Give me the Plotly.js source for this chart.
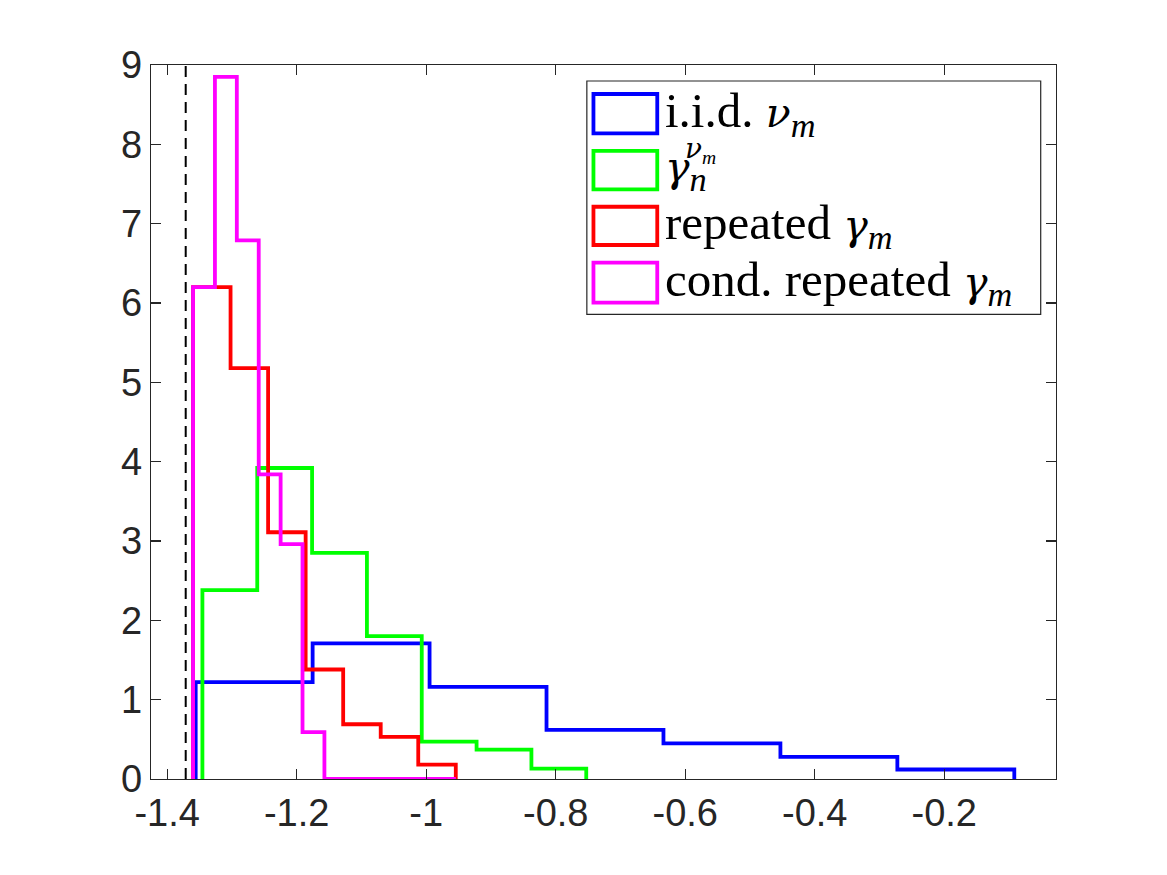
<!DOCTYPE html>
<html>
<head>
<meta charset="utf-8">
<script src="https://cdn.plot.ly/plotly-3.0.1.min.js"></script>
<style>html,body{margin:0;padding:0;background:#fff;}#chart{width:1167px;height:875px;}</style>
</head>
<body>
<div id="chart"></div>
<script>
// ---- data ----
const iidStart = -1.356, iidWidth = 0.1806;
const iidHeights = [1.22, 1.71, 1.16, 0.62, 0.45, 0.28, 0.12];

const gammaNuStart = -1.3456, gammaNuWidth = 0.08468;
const gammaNuHeights = [2.38, 3.92, 2.85, 1.80, 0.47, 0.37, 0.13];

const repStart = -1.3601, repWidth = 0.05797;
const repHeights = [6.20, 5.18, 3.11, 1.38, 0.69, 0.53, 0.18];

const condStart = -1.3601, condWidth = 0.03382;
const condHeights = [6.20, 8.85, 6.79, 3.84, 2.96, 0.59, 0, 0, 0, 0, 0, 0];

const lowerBound = -1.3714;

const xTickVals = [-1.4, -1.2, -1.0, -0.8, -0.6, -0.4, -0.2];
const xTickText = ['-1.4', '-1.2', '-1', '-0.8', '-0.6', '-0.4', '-0.2'];
const yTickVals = [0, 1, 2, 3, 4, 5, 6, 7, 8, 9];

const G = (s, sz) => '<span style="font-family:DejaVu Serif;font-size:' + sz + 'px"><i>' + s + '</i></span>';
const seriesNames = ['i.i.d. ' + G('ν', 41) + '<sub><i>m</i></sub>',
                     G('γ', 41) + '<sub><i>n</i></sub>',
                     'repeated ' + G('γ', 41) + '<sub><i>m</i></sub>',
                     'cond. repeated ' + G('γ', 41) + '<sub><i>m</i></sub>'];
const superLabel = G('ν', 28) + '<sub><i>m</i></sub>';
const colors = ['#0000FF', '#00FF00', '#FF0000', '#FF00FF'];

// ---- build stairs outlines ----
function stairs(start, width, heights) {
  const x = [start], y = [0];
  heights.forEach((h, i) => { x.push(start + i * width); y.push(h); });
  x.push(start + heights.length * width); y.push(0);
  return {x, y};
}
const sets = [
  stairs(iidStart, iidWidth, iidHeights),
  stairs(gammaNuStart, gammaNuWidth, gammaNuHeights),
  stairs(repStart, repWidth, repHeights),
  stairs(condStart, condWidth, condHeights)
];

const traces = [{
  x: [lowerBound, lowerBound], y: [0, 9], mode: 'lines',
  line: {color: '#000', width: 2, dash: '11px,7px'}, showlegend: false, hoverinfo: 'skip'
}];
sets.forEach((s, i) => traces.push({
  x: s.x, y: s.y, mode: 'lines', line: {shape: 'hv', color: colors[i], width: 3.8},
  showlegend: false, name: seriesNames[i]
}));

// ---- custom legend (patch-style boxes) ----
const rowTops = [0.9594, 0.8796, 0.8015, 0.7231];
const rowBots = [0.9043, 0.8259, 0.7479, 0.6671];
const shapes = [{
  type: 'rect', xref: 'paper', yref: 'paper', x0: 0.4816, x1: 0.9831, y0: 0.6508, y1: 0.9776,
  line: {color: '#262626', width: 1.2}, fillcolor: '#fff', layer: 'above'
}];
const annotations = [];
colors.forEach((c, i) => {
  shapes.push({type: 'rect', xref: 'paper', yref: 'paper', x0: 0.4889, x1: 0.5594,
    y0: rowBots[i], y1: rowTops[i], line: {color: c, width: 3.8}, fillcolor: 'rgba(0,0,0,0)', layer: 'above'});
  annotations.push({xref: 'paper', yref: 'paper', x: 0.5655, y: (rowTops[i] + rowBots[i]) / 2,
    xanchor: 'left', yanchor: 'middle', showarrow: false, text: seriesNames[i],
    font: {family: 'Liberation Serif', size: 49, color: '#000'}});
});
// superscript of the second legend entry
annotations.push({xref: 'paper', yref: 'paper', x: 0.5885, y: 0.9075, xanchor: 'left', yanchor: 'top',
  borderpad: 0, showarrow: false, text: superLabel, font: {family: 'Liberation Serif', size: 28, color: '#000'}});

const axisCommon = {
  showline: true, linecolor: '#262626', linewidth: 1.2, mirror: 'ticks',
  ticks: 'inside', ticklen: 10, tickwidth: 1.2, tickcolor: '#262626',
  showgrid: false, zeroline: false,
  tickfont: {family: 'Liberation Sans, Arial, sans-serif', size: 38, color: '#262626'}
};

const layout = {
  width: 1167, height: 875,
  margin: {l: 151, r: 111, t: 65, b: 96},
  paper_bgcolor: '#fff', plot_bgcolor: '#fff',
  showlegend: false,
  xaxis: Object.assign({}, axisCommon, {range: [-1.425, -0.0274], tickvals: xTickVals, ticktext: xTickText}),
  yaxis: Object.assign({}, axisCommon, {range: [0, 9], tickvals: yTickVals}),
  shapes: shapes, annotations: annotations
};

Plotly.newPlot('chart', traces, layout, {displayModeBar: false, staticPlot: true});
</script>
</body>
</html>
